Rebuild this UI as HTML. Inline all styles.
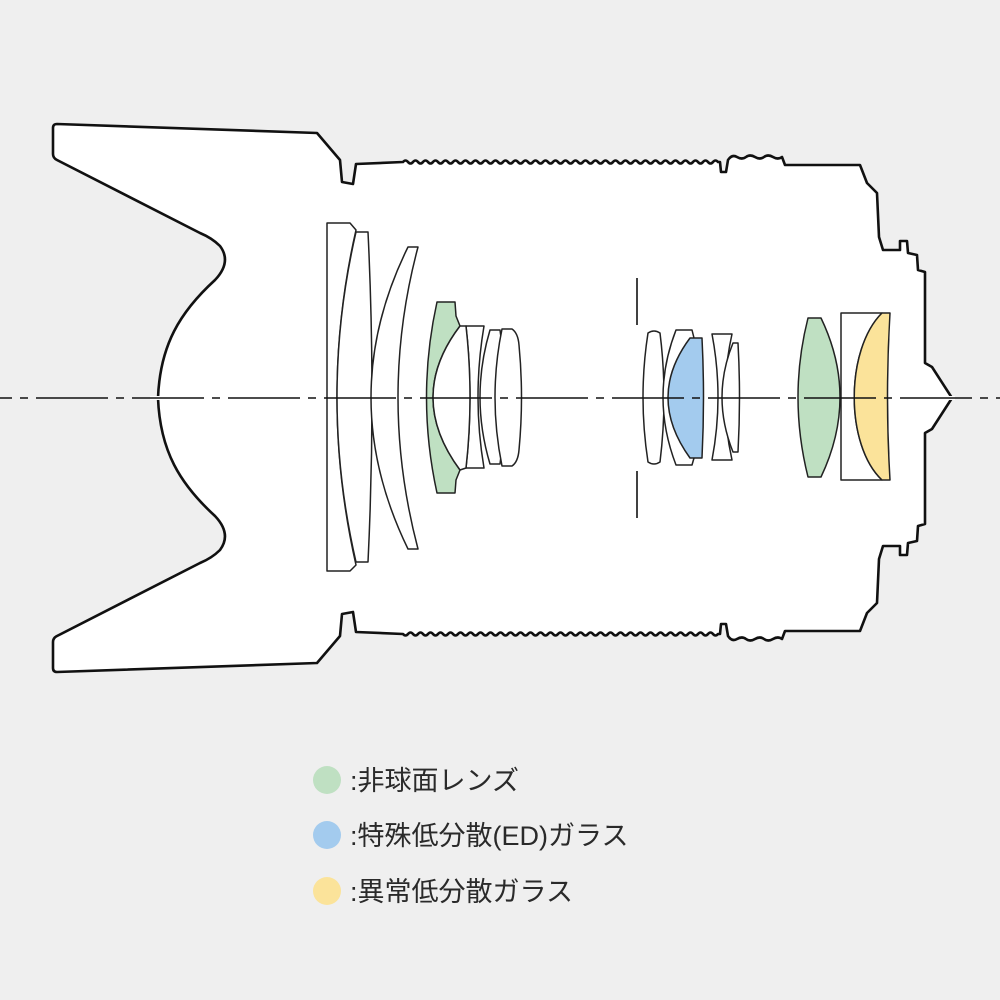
<!DOCTYPE html>
<html><head><meta charset="utf-8"><style>
html,body{margin:0;padding:0;background:#efefef;}
svg{display:block}
text{font-family:"Liberation Sans","Noto Sans CJK JP",sans-serif;fill:#2a2a2a;}
</style></head><body>
<svg width="1000" height="1000" viewBox="0 0 1000 1000" xmlns="http://www.w3.org/2000/svg">
<rect width="1000" height="1000" fill="#efefef"/>
<defs>
<path id="half" d="M158,398 C160,345 180,312 215,280 Q232,262 220,246 Q212,238 200,233 L57,160 Q53,158 53,154 L53,128 Q53,124 57,124 L317,133 L340,160 L342,182 L353,184 L356,164 L403,162 q2.5,-3 5,0 t5,0 t5,0 t5,0 t5,0 t5,0 t5,0 t5,0 t5,0 t5,0 t5,0 t5,0 t5,0 t5,0 t5,0 t5,0 t5,0 t5,0 t5,0 t5,0 t5,0 t5,0 t5,0 t5,0 t5,0 t5,0 t5,0 t5,0 t5,0 t5,0 t5,0 t5,0 t5,0 t5,0 t5,0 t5,0 t5,0 t5,0 t5,0 t5,0 t5,0 t5,0 t5,0 t5,0 t5,0 t5,0 t5,0 t5,0 t5,0 t5,0 t5,0 t5,0 t5,0 t5,0 t5,0 t5,0 t5,0 t5,0 t5,0 t5,0 t5,0 t5,0 t5,0 L720,162 L721,172 L726,172 L728,160 q4,-6 9,-3 t9,0 t9,0 t9,0 t9,0 t9,0 L785,165 L860,165 L867,183 L877,193 L879,237 L883,250 L900,250 L900,241 L907,241 L908,253 L917,255 L918,270 L925,272 L925,363 L932,367 L952,398"/>
</defs>
<use href="#half" fill="#fff" stroke="none"/>
<use href="#half" fill="none" stroke="#111" stroke-width="2.6" stroke-linejoin="round"/>
<g transform="translate(0,796) scale(1,-1)">
<use href="#half" fill="#fff" stroke="none"/>
<use href="#half" fill="none" stroke="#111" stroke-width="2.6" stroke-linejoin="round"/>
</g>
<rect x="150" y="396" width="805" height="4" fill="#fff"/>
<g stroke="#222" stroke-width="1.5" fill="#fff" stroke-linejoin="round">
<path d="M327,223 L350,223 L356,230 Q318,397 356,565 L350,571 L327,571 Z"/>
<path d="M356,232 L368,232 Q376,397 368,562 L356,562 Q318,397 356,232 Z"/>
<path d="M408,247 L418,247 Q378,397 418,549 L408,549 Q334,397 408,247 Z"/>
<path fill="#bfe0c2" d="M437,302 L455,302 L456,316 L460,326 Q406,397 460,470 L456,480 L455,493 L437,493 Q416,397 437,302 Z"/>
<path d="M466,326 L484,326 Q472,397 484,468 L466,468 Q474,397 466,326 Z"/>
<path d="M460,326 L466,326 Q474,397 466,468 L460,470 Q406,397 460,326 Z"/>
<path d="M490,330 L500,330 Q510,397 500,464 L490,464 Q470,397 490,330 Z"/>
<path d="M502,329 L512,329 Q518,333 519,345 Q524,397 519,450 Q518,462 512,466 L502,466 Q488,397 502,329 Z"/>
<path d="M648,333 Q638,397 648,462 Q654,466 660,462 Q668,397 660,333 Q654,329 648,333 Z"/>
<path d="M676,330 L692,330 L694,338 Q646,397 694,458 L692,465 L676,465 Q650,397 676,330 Z"/>
<path fill="#a3cbee" d="M690,338 L702,338 Q705,397 702,458 L690,458 Q646,397 690,338 Z"/>
<path d="M712,334 L732,334 Q718,397 732,460 L712,460 Q724,397 712,334 Z"/>
<path d="M733,343 L738,343 Q741,397 738,452 L733,452 Q711,397 733,343 Z"/>
<path fill="#bfe0c2" d="M808,318 L821,318 Q859,397 821,477 L808,477 Q788,397 808,318 Z"/>
<path d="M841,313 L882,313 C845,350 845,445 882,480 L841,480 Z"/>
<path fill="#fbe39a" d="M882,313 L890,313 Q885,397 890,480 L882,480 C845,445 845,350 882,313 Z"/>
</g>
<line x1="637" y1="278" x2="637" y2="325" stroke="#111" stroke-width="1.6"/>
<line x1="637" y1="471" x2="637" y2="518" stroke="#111" stroke-width="1.6"/>
<line x1="0" y1="398" x2="1000" y2="398" stroke="#111" stroke-width="1.6" stroke-dasharray="72 8 8 8" stroke-dashoffset="60"/>
<circle cx="327" cy="780" r="14" fill="#bfe0c2"/>
<circle cx="327" cy="835" r="14" fill="#a3cbee"/>
<circle cx="327" cy="891" r="14" fill="#fbe39a"/>
<text x="350" y="790" font-size="27">:非球面レンズ</text>
<text x="350" y="845" font-size="27">:特殊低分散(ED)ガラス</text>
<text x="350" y="901" font-size="27">:異常低分散ガラス</text>
</svg>
</body></html>
